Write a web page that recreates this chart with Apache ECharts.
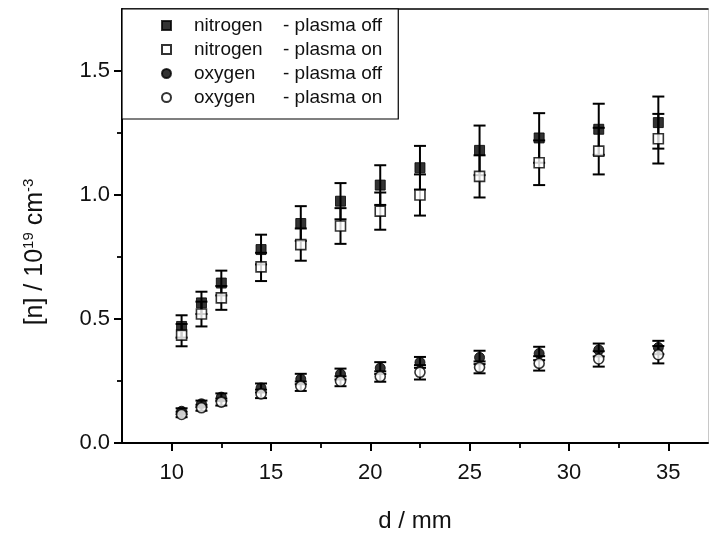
<!DOCTYPE html>
<html>
<head>
<meta charset="utf-8">
<script src="https://cdn.jsdelivr.net/npm/echarts@6/dist/echarts.min.js"></script>
<style>
html,body{margin:0;padding:0;background:#fff;}
#c{width:711px;height:535px;}
</style>
</head>
<body>
<div id="c"></div>
<script>
// ---- data ----
const dist = [10.5, 11.5, 12.5, 14.5, 16.5, 18.5, 20.5, 22.5, 25.5, 28.5, 31.5, 34.5];
const n2Off    = [0.470, 0.565, 0.645, 0.780, 0.885, 0.975, 1.040, 1.110, 1.180, 1.230, 1.265, 1.292];
const n2OffErr = [0.045, 0.045, 0.050, 0.060, 0.070, 0.073, 0.080, 0.088, 0.100, 0.100, 0.103, 0.105];
const n2On     = [0.435, 0.520, 0.585, 0.710, 0.800, 0.875, 0.935, 1.000, 1.075, 1.130, 1.177, 1.227];
const n2OnErr  = [0.045, 0.050, 0.048, 0.057, 0.065, 0.072, 0.075, 0.083, 0.085, 0.090, 0.094, 0.100];
const o2Off    = [0.128, 0.158, 0.185, 0.222, 0.258, 0.278, 0.302, 0.325, 0.345, 0.361, 0.375, 0.385];
const o2OffErr = [0.012, 0.013, 0.015, 0.018, 0.021, 0.022, 0.024, 0.022, 0.027, 0.027, 0.026, 0.027];
const o2On     = [0.115, 0.142, 0.165, 0.198, 0.229, 0.249, 0.268, 0.285, 0.305, 0.321, 0.339, 0.356];
const o2OnErr  = [0.011, 0.012, 0.014, 0.017, 0.019, 0.020, 0.021, 0.029, 0.024, 0.029, 0.031, 0.035];

const xMajorTicks = [10, 15, 20, 25, 30, 35];
const xMinorTicks = [12.5, 17.5, 22.5, 27.5, 32.5];
const yMajorTicks = [0, 0.5, 1.0, 1.5];
const yMinorTicks = [0.25, 0.75, 1.25];

const seriesNames = ['nitrogen - plasma off', 'nitrogen - plasma on', 'oxygen - plasma off', 'oxygen - plasma on'];

// ---- build ----
const FONT = '"Liberation Sans", Arial, sans-serif';
function pts(vals) { return dist.map((d, i) => [d, vals[i]]); }
function errPts(vals, errs) { return dist.map((d, i) => [d, vals[i] - errs[i], vals[i] + errs[i]]); }

function errSeries(vals, errs) {
  return {
    type: 'custom',
    xAxisIndex: 0, yAxisIndex: 0,
    z: 1,
    silent: true,
    data: errPts(vals, errs),
    renderItem: function (params, api) {
      const lo = api.coord([api.value(0), api.value(1)]);
      const hi = api.coord([api.value(0), api.value(2)]);
      const w = 6;
      const st = { stroke: '#000', lineWidth: 2 };
      return {
        type: 'group',
        children: [
          { type: 'line', shape: { x1: lo[0], y1: lo[1], x2: hi[0], y2: hi[1] }, style: st },
          { type: 'line', shape: { x1: lo[0] - w, y1: lo[1], x2: lo[0] + w, y2: lo[1] }, style: st },
          { type: 'line', shape: { x1: hi[0] - w, y1: hi[1], x2: hi[0] + w, y2: hi[1] }, style: st }
        ]
      };
    }
  };
}

function scatter(name, vals, symbol, filled) {
  return {
    type: 'scatter',
    name: name,
    xAxisIndex: 0, yAxisIndex: 0,
    z: filled ? 3 : 4,
    symbol: symbol,
    symbolSize: 10,
    data: pts(vals),
    itemStyle: filled
      ? { color: '#000', borderColor: '#000', borderWidth: 1 }
      : { color: '#fff', borderColor: '#000', borderWidth: 1.6 }
  };
}

const baseX = { type: 'value', min: 7.5, max: 37, gridIndex: 0 };
const baseY = { type: 'value', min: 0, max: 1.75, gridIndex: 0 };

const option = {
  animation: false,
  backgroundColor: '#fff',
  grid: {
    left: 122, right: 3, top: 9, bottom: 92,
    containLabel: false,
    outerBoundsMode: 'none',
    show: false
  },
  xAxis: [
    Object.assign({}, baseX, {
      position: 'bottom',
      name: 'd / mm',
      nameLocation: 'middle',
      nameGap: 66,
      nameTextStyle: { fontFamily: FONT, fontSize: 24, color: '#111' },
      axisLine: { show: true, onZero: false, lineStyle: { color: '#000', width: 2 } },
      axisTick: { show: true, inside: false, length: 8, lineStyle: { color: '#000', width: 2 }, customValues: xMajorTicks },
      axisLabel: { show: true, margin: 19, fontFamily: FONT, fontSize: 22, color: '#111', customValues: xMajorTicks },
      splitLine: { show: false }
    }),
    Object.assign({}, baseX, {
      position: 'bottom',
      axisLine: { show: false, onZero: false },
      axisTick: { show: true, inside: false, length: 5, lineStyle: { color: '#000', width: 1.8 }, customValues: xMinorTicks },
      axisLabel: { show: false },
      splitLine: { show: false }
    }),
    Object.assign({}, baseX, {
      position: 'top',
      axisLine: { show: true, onZero: false, lineStyle: { color: '#000', width: 1.5 } },
      axisTick: { show: false },
      axisLabel: { show: false },
      splitLine: { show: false }
    })
  ],
  yAxis: [
    Object.assign({}, baseY, {
      position: 'left',
      name: '[n] / 10{sup|19} cm{sup|-3}',
      nameLocation: 'middle',
      nameGap: 73,
      nameRotate: 90,
      nameTextStyle: {
        fontFamily: FONT, fontSize: 25, color: '#111',
        padding: [0, 52, 0, 0],
        rich: { sup: { fontFamily: FONT, fontSize: 15, color: '#111', verticalAlign: 'top', padding: [0, 0, 13, 0] } }
      },
      axisLine: { show: true, onZero: false, lineStyle: { color: '#000', width: 2 } },
      axisTick: { show: true, inside: false, length: 8, lineStyle: { color: '#000', width: 2 }, customValues: yMajorTicks },
      axisLabel: {
        show: true, margin: 12, fontFamily: FONT, fontSize: 22, color: '#111', customValues: yMajorTicks,
        formatter: function (v) { return v.toFixed(1); }
      },
      splitLine: { show: false }
    }),
    Object.assign({}, baseY, {
      position: 'left',
      axisLine: { show: false, onZero: false },
      axisTick: { show: true, inside: false, length: 5, lineStyle: { color: '#000', width: 1.8 }, customValues: yMinorTicks },
      axisLabel: { show: false },
      splitLine: { show: false }
    }),
    Object.assign({}, baseY, {
      position: 'right',
      axisLine: { show: true, onZero: false, lineStyle: { color: '#c8c8c8', width: 1 } },
      axisTick: { show: false },
      axisLabel: { show: false },
      splitLine: { show: false }
    })
  ],
  legend: {
    orient: 'vertical',
    left: 122, top: 9,
    padding: [7, 16, 12, 39],
    itemGap: 5,
    itemWidth: 9, itemHeight: 9,
    backgroundColor: '#fff',
    borderColor: '#000', borderWidth: 1.2,
    data: seriesNames.map((n, i) => ({ name: n, icon: i < 2 ? 'rect' : 'circle' })),
    formatter: function (name) {
      const parts = name.split(' - ');
      return '{a|' + parts[0] + '}{b|- ' + parts[1] + '}';
    },
    textStyle: {
      fontFamily: FONT, fontSize: 19, color: '#111',
      rich: {
        a: { fontFamily: FONT, fontSize: 19, color: '#111', width: 89, padding: [0, 0, 0, 18], lineHeight: 19 },
        b: { fontFamily: FONT, fontSize: 19, color: '#111', lineHeight: 19 }
      }
    }
  },
  series: [
    errSeries(n2Off, n2OffErr),
    errSeries(n2On, n2OnErr),
    errSeries(o2Off, o2OffErr),
    errSeries(o2On, o2OnErr),
    scatter(seriesNames[0], n2Off, 'rect', true),
    scatter(seriesNames[1], n2On, 'rect', false),
    scatter(seriesNames[2], o2Off, 'circle', true),
    scatter(seriesNames[3], o2On, 'circle', false)
  ]
};

const chart = echarts.init(document.getElementById('c'), null, { renderer: 'canvas' });
chart.setOption(option);
</script>
</body>
</html>
